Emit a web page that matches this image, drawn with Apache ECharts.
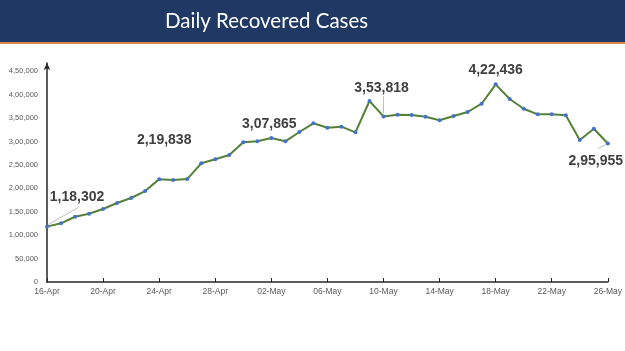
<!DOCTYPE html>
<html>
<head>
<meta charset="utf-8">
<script src="https://cdn.jsdelivr.net/npm/echarts@6/dist/echarts.min.js"></script>
<style>
html,body{margin:0;padding:0;background:#fff;}
#c{width:625px;height:351px;}
</style>
</head>
<body>
<div id="c"></div>
<script>
var titleText = 'Daily Recovered Cases';
var dates = ['16-Apr','17-Apr','18-Apr','19-Apr','20-Apr','21-Apr','22-Apr','23-Apr','24-Apr','25-Apr',
  '26-Apr','27-Apr','28-Apr','29-Apr','30-Apr','01-May','02-May','03-May','04-May','05-May',
  '06-May','07-May','08-May','09-May','10-May','11-May','12-May','13-May','14-May','15-May',
  '16-May','17-May','18-May','19-May','20-May','21-May','22-May','23-May','24-May','25-May','26-May'];
var recovered = [118302,125400,139500,146000,156000,168800,179500,194400,219838,218000,
  220000,253600,262200,271400,298500,300600,307865,300600,320500,339100,
  329700,331900,319800,386800,353818,357500,356800,353200,345500,354700,
  363300,381000,422436,391000,370300,358300,358300,356200,303400,327600,295955];
var labelledIdx = [0, 8, 16, 24, 32, 40];
var yTicks = [0,50000,100000,150000,200000,250000,300000,350000,400000,450000];

// label placement (style only): [dx, dy]
var labelMove = {0:[30,-16],8:[5,-25],16:[-2,0],24:[-2,-14],32:[0,0],40:[-12,32]};
// leader line pixel offsets from the point: [x1,y1,x2,y2]
var leaderStyle = {0:[1,-2,31,-19], 24:[0,-3,0,-20], 40:[-2,1,-10,5]};

function indianFmt(v){
  var s = String(Math.round(v));
  if (s.length <= 3) return s;
  var last3 = s.slice(-3), rest = s.slice(0, -3);
  rest = rest.replace(/\B(?=(\d{2})+(?!\d))/g, ',');
  return rest + ',' + last3;
}

var seriesData = recovered.map(function(v, i){
  if (labelledIdx.indexOf(i) >= 0) {
    return {value: v, label: {show: true}};
  }
  return v;
});

var chart = echarts.init(document.getElementById('c'));
var baseGraphic = [
  {type:'rect', shape:{x:0,y:0,width:625,height:42}, style:{fill:'#1f3864'}, z:-1},
  {type:'rect', shape:{x:0,y:42,width:625,height:2}, style:{fill:'#e0854a'}, z:-1}
];
chart.setOption({
  animation: false,
  backgroundColor: '#fff',
  graphic: baseGraphic,
  title: {
    text: titleText, left: 160, top: 6,
    textStyle: {color:'#ffffff', fontFamily:'Lato', fontWeight:'normal', fontSize:20.5}
  },
  grid: {left: 47, right: 16, top: 63, bottom: 69, containLabel: false},
  xAxis: {
    type: 'category', data: dates, boundaryGap: false,
    axisLine: {lineStyle:{color:'#262626', width:1.5}},
    axisTick: {show:true, interval:3, inside:true, length:4, lineStyle:{color:'#262626'}},
    axisLabel: {interval:3, color:'#595959', fontFamily:'Liberation Sans', fontSize:8.5, margin:5},
    splitLine: {show:false}
  },
  yAxis: {
    type: 'value', min: 0, max: 468000, interval: 50000,
    axisLine: {show:true, symbol:['none','arrow'], symbolSize:[5,7], symbolOffset:[0,0], lineStyle:{color:'#262626', width:1.5}},
    axisTick: {show:false},
    splitLine: {show:false},
    axisLabel: {
      color:'#595959', fontFamily:'Liberation Sans', fontSize:7.5, margin:9,
      showMaxLabel: false,
      formatter: function(v){ return yTicks.indexOf(v) >= 0 ? indianFmt(v) : ''; }
    }
  },
  series: [{
    type: 'line', data: seriesData, z: 3,
    symbol: 'circle', symbolSize: 4,
    lineStyle: {color:'#548235', width:2},
    itemStyle: {color:'#4472c4'},
    label: {
      show: false, position: 'top', distance: 5,
      color:'#404040', fontFamily:'Liberation Sans', fontWeight:'bold', fontSize:14,
      formatter: function(p){ return indianFmt(p.value); }
    },
    labelLayout: function(p){
      var m = labelMove[p.dataIndex];
      if (!m) return {};
      return {dx: m[0], dy: m[1]};
    }
  }]
});

// leader lines anchored to the data points through the chart's own scales
var leaders = Object.keys(leaderStyle).map(function(k){
  var i = +k;
  var pt = chart.convertToPixel({gridIndex:0}, [dates[i], recovered[i]]);
  var o = leaderStyle[k];
  return {type:'line', shape:{x1:pt[0]+o[0], y1:pt[1]+o[1], x2:pt[0]+o[2], y2:pt[1]+o[3]},
    style:{stroke:'#bfbfbf', lineWidth:1}, z:1};
});
chart.setOption({graphic: baseGraphic.concat(leaders)});
</script>
</body>
</html>
